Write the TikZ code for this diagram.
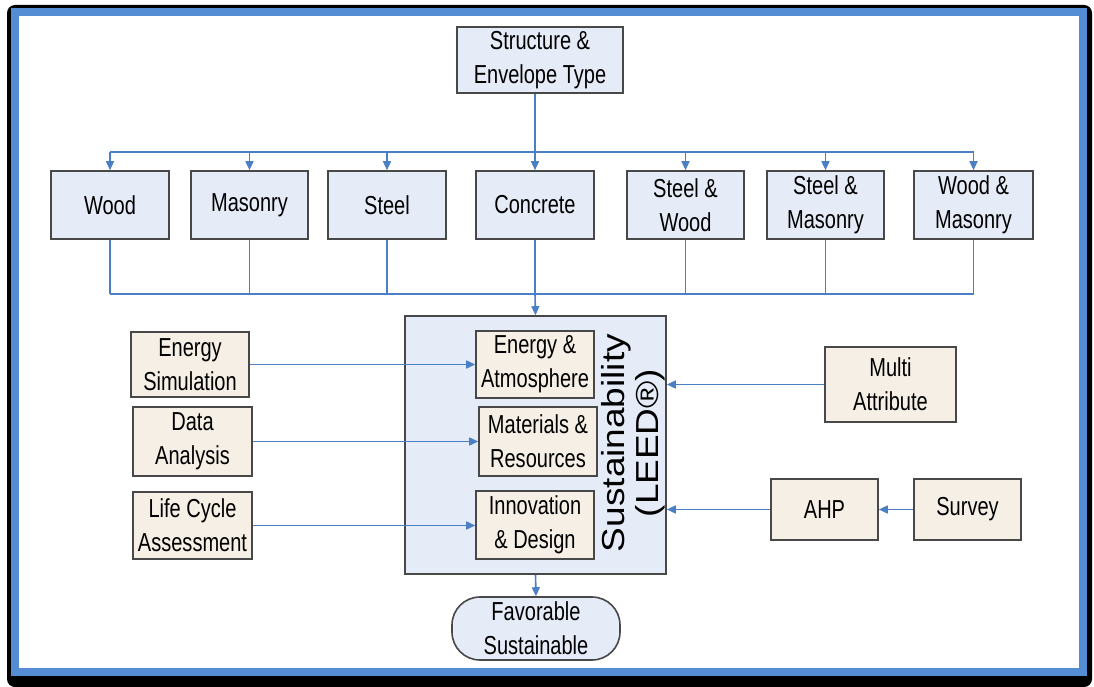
\documentclass[tikz,border=0pt]{standalone}
\usepackage{fontspec}
\setmainfont{Liberation Sans}[FakeStretch=0.77]
\newfontfamily\rotfont{Liberation Sans}
\usetikzlibrary{arrows.meta,calc}
\definecolor{boxblue}{RGB}{230,236,247}
\definecolor{boxbeige}{RGB}{245,239,230}
\definecolor{boxline}{RGB}{72,72,72}
\definecolor{connblue}{RGB}{74,126,197}
\definecolor{frameblue}{RGB}{84,141,212}
\begin{document}
\begin{tikzpicture}[x=1pt,y=-1pt,
  basebox/.style={draw=boxline, line width=1.6pt, inner sep=0pt, align=center,
    font=\fontsize{26}{34}\selectfont},
  bluebox/.style={basebox, fill=boxblue},
  beigebox/.style={basebox, fill=boxbeige},
  conn/.style={draw=connblue, line width=1.6pt},
  arr/.style={conn, -{Triangle[length=9pt,width=8pt]}}]
\useasboundingbox (0,0) rectangle (1094,687);
% frame
\fill[black, rounded corners=8pt] (7,5) rectangle (1092,687);
\fill[white] (15,12) rectangle (1083,672);
\draw[frameblue, line width=8pt] (15,12) rectangle (1083,672);
% top
\node[bluebox, minimum width=166pt, minimum height=66pt] (top) at (540,60) {Structure \&\\Envelope Type};
% row
\node[bluebox, minimum width=118pt, minimum height=68pt] (wood) at (110,205) {Wood};
\node[bluebox, minimum width=117pt, minimum height=68pt] (mas) at (249.5,205) {Masonry};
\node[bluebox, minimum width=118pt, minimum height=68pt] (steel) at (387,205) {Steel};
\node[bluebox, minimum width=118pt, minimum height=68pt] (conc) at (535,205) {Concrete};
\node[bluebox, minimum width=117pt, minimum height=68pt] (sw) at (685.5,205) {Steel \&\\Wood};
\node[bluebox, minimum width=117pt, minimum height=68pt] (sm) at (825.5,205) {Steel \&\\Masonry};
\node[bluebox, minimum width=119pt, minimum height=68pt] (wm) at (973.5,205) {Wood \&\\Masonry};
\coordinate (bus) at (0,152);
\coordinate (bustwo) at (0,294);
% top bus
\draw[conn] (top.south -| conc.north) -- (conc.north |- bus);
\draw[conn] (wood.north |- bus) -- (wm.north |- bus);
\foreach \n in {wood,mas,steel,conc,sw,sm,wm}{
  \draw[arr] (\n.north |- bus) -- (\n.north);
  \draw[conn] (\n.south) -- (\n.south |- bustwo);
}
\draw[conn] (wood.south |- bustwo) -- (wm.south |- bustwo);
% sustainability
\node[bluebox, minimum width=261pt, minimum height=258pt] (sust) at (535.5,445) {};
\draw[arr] (conc.south |- bustwo) -- (sust.north);
\node[rotate=90, align=center, inner sep=0pt, font=\rotfont\fontsize{37}{34}\selectfont] (susttext) at (633,443)
  {\scalebox{1}[0.86]{Sustainability}\\\scalebox{1}[0.86]{(LEED®)}};
\node[beigebox, minimum width=118pt, minimum height=67pt] (ea) at (535,364.5) {Energy \&\\Atmosphere};
\node[beigebox, minimum width=118pt, minimum height=69pt] (mr) at (538,441.5) {Materials \&\\Resources};
\node[beigebox, minimum width=118pt, minimum height=68pt] (id) at (535,525) {Innovation\\\& Design};
% left
\node[beigebox, minimum width=118pt, minimum height=65pt] (es) at (190,364.5) {Energy\\Simulation};
\node[beigebox, minimum width=119pt, minimum height=69pt] (da) at (192.5,441.5) {Data\\Analysis};
\node[beigebox, minimum width=119pt, minimum height=67pt] (lc) at (192.5,525.5) {Life Cycle\\Assessment};
\draw[arr] (es.east) -- (es.east -| ea.west);
\draw[arr] (da.east) -- (da.east -| mr.west);
\draw[arr] (lc.east) -- (lc.east -| id.west);
% right
\node[beigebox, minimum width=131pt, minimum height=75pt] (ma) at (890.5,384.5) {Multi\\Attribute};
\node[beigebox, minimum width=107pt, minimum height=61pt] (ahp) at (824.5,509.5) {AHP};
\node[beigebox, minimum width=107pt, minimum height=61pt] (survey) at (967.5,509.5) {Survey};
\draw[arr] (ma.west) -- (ma.west -| sust.east);
\draw[arr] (survey.west) -- (ahp.east);
\draw[arr] (ahp.west) -- (ahp.west -| sust.east);
% favorable
\node[bluebox, rounded corners=28pt, minimum width=168pt, minimum height=63pt] (fav) at (536,628.5) {Favorable\\Sustainable};
\draw[arr] (sust.south) -- (fav.north);
\end{tikzpicture}
\end{document}
